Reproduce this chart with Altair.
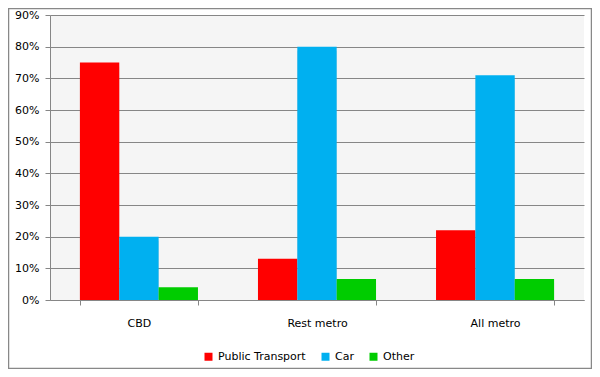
import altair as alt
import pandas as pd

regions = ["CBD", "Rest metro", "All metro"]
modes = ["Public Transport", "Car", "Other"]
public_transport = [0.75, 0.13, 0.22]
car = [0.20, 0.80, 0.71]
other = [0.04, 0.066, 0.066]
colors = ["#FF0000", "#00B0F0", "#00CC00"]
y_ticks = [i / 10 for i in range(10)]

rows = []
for i, r in enumerate(regions):
    for m, vals in zip(modes, [public_transport, car, other]):
        rows.append({"region": r, "mode": m, "value": vals[i]})
df = pd.DataFrame(rows)

FONT = "DejaVu Sans"
GRID = "#868686"

x_enc = alt.X("region:N", sort=regions, title=None,
              scale=alt.Scale(paddingInner=0.337, paddingOuter=0.168),
              axis=alt.Axis(labelAngle=0, tickBand="extent", tickSize=5,
                            labelPadding=12, domainColor=GRID, tickColor=GRID,
                            labelFont=FONT, labelFontSize=11, labelColor="#000000"))
xoff_enc = alt.XOffset("mode:N", sort=modes, scale=alt.Scale(paddingInner=0, paddingOuter=0))
y_enc = alt.Y("value:Q", title=None, stack=None,
              scale=alt.Scale(domain=[0, 0.9], nice=False),
              axis=alt.Axis(values=y_ticks + [0.9], format=".0%", tickSize=5, labelPadding=6,
                            grid=True, gridColor=GRID, gridWidth=1, gridOpacity=1,
                            domainColor=GRID, tickColor=GRID,
                            labelFont=FONT, labelFontSize=11, labelColor="#000000"))

shadow = alt.Chart(df).mark_bar(color="#808080", opacity=0.3, xOffset=4, x2Offset=4,
                                yOffset=4, y2Offset=-1).encode(
    x=x_enc, xOffset=xoff_enc, y=y_enc, y2=alt.Y2(datum=0)
)

bars = alt.Chart(df).mark_bar(strokeWidth=0).encode(
    x=x_enc, xOffset=xoff_enc, y=y_enc, y2=alt.Y2(datum=0),
    color=alt.Color("mode:N", sort=modes,
                    scale=alt.Scale(domain=modes, range=colors),
                    legend=alt.Legend(title=None, orient="none", direction="horizontal",
                                      legendX=153, legendY=336, symbolType="square",
                                      symbolSize=64, symbolStrokeWidth=0, columnPadding=14,
                                      labelFont=FONT, labelFontSize=11, labelColor="#000000",
                                      symbolOpacity=1))
)

border = alt.Chart(pd.DataFrame({"k": [0]})).mark_rect(fill=None, stroke="#888888", strokeWidth=1.5).encode(
    x=alt.value(-41.5), x2=alt.value(541.5), y=alt.value(-6.5), y2=alt.value(353.5)
)

chart = alt.layer(shadow, bars, border).properties(
    width=534, height=285,
    autosize=alt.AutoSizeParams(type="none"),
    padding={"left": 42, "top": 7, "right": 8, "bottom": 69},
    background="#FFFFFF",
).configure_view(fill="#F5F5F5", stroke=None)

chart.save("out.html", embed_options={"renderer": "svg", "actions": False})
